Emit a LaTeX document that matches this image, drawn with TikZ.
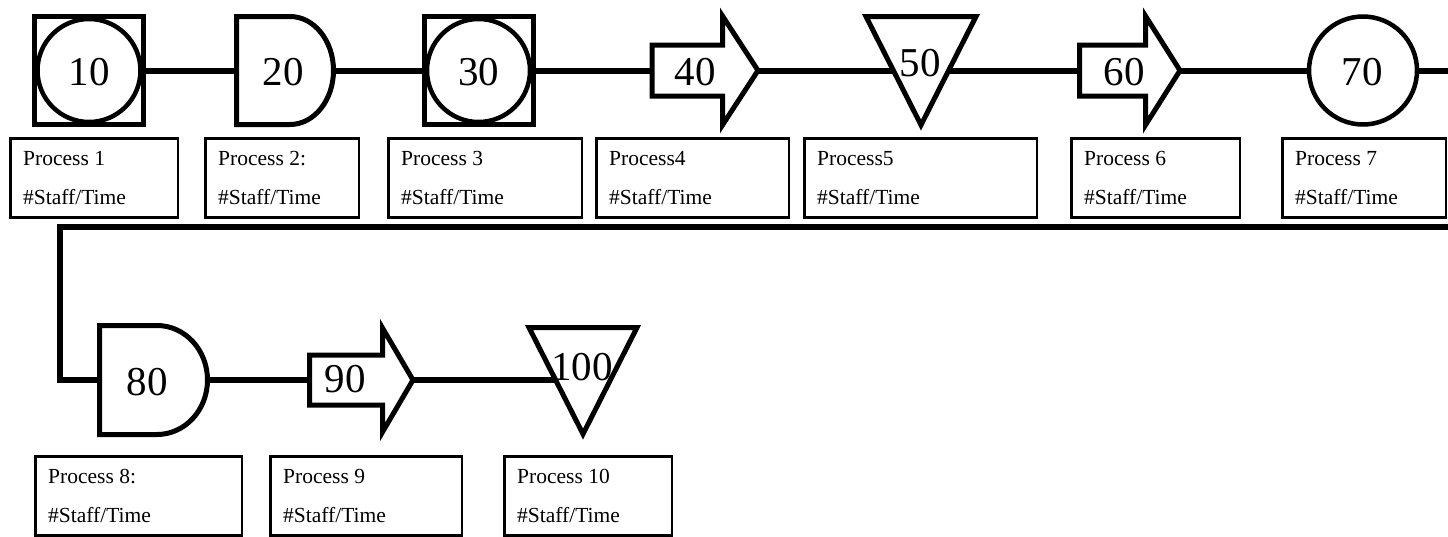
\documentclass[tikz,border=0pt]{standalone}
\usepackage{fontspec}
\setmainfont{Liberation Serif}
\newcommand\numfnt{\fontsize{41}{41}\selectfont}
\newcommand\lblfnt{\fontsize{21.5}{21.5}\selectfont}
\tikzset{
  shp/.style={line width=5pt, line join=miter, miter limit=10},
  conn/.style={line width=6pt, line join=miter},
  lbl/.style={draw, line width=2.5pt, inner sep=0, anchor=north west},
  num/.style={font=\numfnt, inner sep=0},
  txt/.style={font=\lblfnt, anchor=base west, inner sep=0},
  sqbox/.style={draw, line width=5pt, inner sep=0, minimum width=109pt, minimum height=108pt},
  rnd/.style={draw, circle, line width=4.5pt, inner sep=0, minimum size=103pt, font=\numfnt},
}
\begin{document}
\begin{tikzpicture}[x=1pt,y=-1pt]
\clip (0,0) rectangle (1448,536);
\fill[white] (0,0) rectangle (1448,536);

% ---- row 1 ----
% 10
\node[sqbox] (s10) at (89,70.5) {};
\node[rnd] (p10) at (89,70.5) {};
\node[num] (n10) at (89,72) {10};
% 20
\draw[shp] (290,16.5) -- (236.5,16.5) -- (236.5,124.5) -- (290,124.5)
  arc[start angle=-90, end angle=90, x radius=43.5pt, y radius=54pt] -- cycle;
\node[num] (p20) at (283,72) {20};
\coordinate (p20in) at (236.5,70.5);
\coordinate (p20out) at (333.5,70.5);
% 30
\node[sqbox] (s30) at (478.5,70.5) {};
\node[rnd] (p30) at (478.5,70.5) {};
\node[num] (n30) at (478.5,72) {30};
% 40
\draw[shp] (652,45) -- (722.5,45) -- (722.5,16) -- (758,70.5) -- (722.5,125)
  -- (722.5,96) -- (652,96) -- cycle;
\node[num] (p40) at (695,72) {40};
\coordinate (p40in) at (652,70.5);
\coordinate (p40out) at (758,70.5);
% 50
\draw[shp] (866,16.5) -- (976,16.5) -- (921,125) -- cycle;
\node[num] (p50) at (920,63) {50};
\coordinate (p50in) at (893.4,70.5);
\coordinate (p50out) at (948.6,70.5);
% 60
\draw[shp] (1079.5,45) -- (1145.5,45) -- (1145.5,16) -- (1180,70.5) -- (1145.5,125)
  -- (1145.5,96) -- (1079.5,96) -- cycle;
\node[num] (p60) at (1124,72) {60};
\coordinate (p60in) at (1079.5,70.5);
\coordinate (p60out) at (1180,70.5);
% 70
\node[rnd, minimum size=108pt] (p70) at (1363,70.5) {};
\node[num] (n70) at (1362,72) {70};

% ---- row 2 ----
% 80
\draw[shp] (157,325.5) -- (99.5,325.5) -- (99.5,434.5) -- (157,434.5)
  arc[start angle=-90, end angle=90, x radius=50.5pt, y radius=54.5pt] -- cycle;
\node[num] (p80) at (147,382) {80};
\coordinate (p80in) at (99.5,380);
\coordinate (p80out) at (207.5,380);
% 90
\draw[shp] (309.5,355) -- (382.5,355) -- (382.5,328) -- (413,380) -- (382.5,432)
  -- (382.5,405) -- (309.5,405) -- cycle;
\node[num] (p90) at (345,379) {90};
\coordinate (p90in) at (309.5,380);
\coordinate (p90out) at (413,380);
% 100
\draw[shp] (529,327.5) -- (637,327.5) -- (583,434) -- cycle;
\node[num] (p100) at (582,367) {100};
\coordinate (p100in) at (556,380);

% ---- connectors ----
\coordinate (loopA) at (1475,70.5);
\coordinate (loopB) at (1475,227);
\coordinate (loopC) at (60,227);
\coordinate (loopD) at (60,380);
\draw[conn] (p10) -- (p20in);
\draw[conn] (p20out) -- (p30);
\draw[conn] (p30) -- (p40in);
\draw[conn] (p40out) -- (p50in);
\draw[conn] (p50out) -- (p60in);
\draw[conn] (p60out) -- (p70);
\draw[conn] (p70) -- (loopA) -- (loopB) -- (loopC) -- (loopD) -- (p80in);
\draw[conn] (p80out) -- (p90in);
\draw[conn] (p90out) -- (p100in);

% ---- label boxes ----
\foreach \k/\xa/\xb/\ya/\la in {
  1/8/178/136/Process 1,
  2/203/359/136/Process 2:,
  3/386/582/136/Process 3,
  4/594/789/136/Process4,
  5/802/1037/136/Process5,
  6/1069/1240/136/Process 6,
  7/1280/1446/136/Process 7,
  8/33/242/454/Process 8:,
  9/268/462/454/Process 9,
  10/502/672/454/Process 10}{
  \node[lbl, minimum width={\xb-\xa-2.5}, minimum height=79] (b\k) at ({\xa+1.25},{\ya+1.25}) {};
  \node[txt] (ta\k) at ({\xa+15},{\ya+29}) {\la};
  \node[txt] (tb\k) at ({\xa+15},{\ya+68}) {\#Staff/Time};
}
\end{tikzpicture}
\end{document}
